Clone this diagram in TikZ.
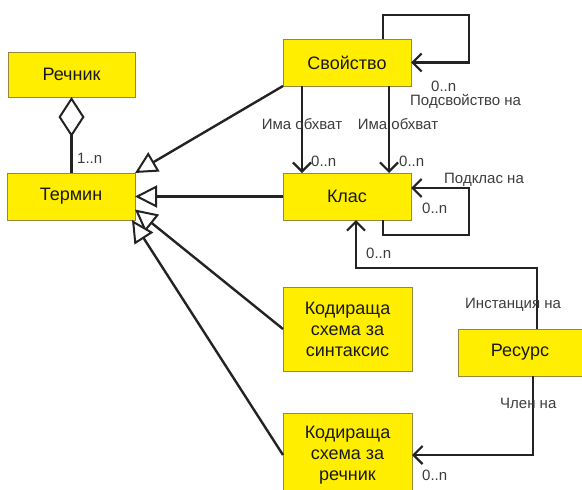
\documentclass[tikz,border=0pt]{standalone}
\usepackage{fontspec}
\setmainfont{Liberation Sans}
\usetikzlibrary{arrows.meta,calc}
\definecolor{boxfill}{RGB}{255,238,0}
\definecolor{boxline}{RGB}{150,135,60}
\definecolor{conn}{RGB}{35,35,35}
\definecolor{lbl}{RGB}{60,60,60}
\tikzset{
  box/.style={draw=boxline, line width=0.8pt, fill=boxfill, inner sep=0pt, outer sep=0pt,
    font=\fontsize{18}{21}\selectfont, align=center, text=black!90},
  lab/.style={font=\fontsize{15}{17}\selectfont, text=lbl, inner sep=0pt},
  conn/.style={draw=conn, line width=2.4pt},
  gen/.style={conn, -{Triangle[open, length=22pt, width=22pt, fill=white, line width=2pt]}},
  nav/.style={conn, -{Straight Barb[length=9pt, width=18pt, line width=2.2pt]}},
}
\begin{document}
\begin{tikzpicture}[x=1pt,y=-1pt]
\useasboundingbox (0,0) rectangle (582,490);
\begin{scope}
\clip (0,0) rectangle (582,490);
% boxes
\node[box, minimum width=127pt, minimum height=45pt] (rech) at (71.5,74.5) {Речник};
\node[box, minimum width=128pt, minimum height=47pt] (term) at (71,196.5) {Термин};
\node[box, minimum width=128pt, minimum height=47pt] (svoj) at (347,62.5) {Свойство};
\node[box, minimum width=128pt, minimum height=47pt] (klas) at (347,196.5) {Клас};
\node[box, minimum width=129pt, minimum height=84pt] (sint) at (347.5,329) {Кодираща\\схема за\\синтаксис};
\node[box, minimum width=124pt, minimum height=47pt] (res) at (520,352.5) {Ресурс};
\node[box, minimum width=129pt, minimum height=84pt, anchor=north] (rchs) at (347.5,413) {Кодираща\\схема за\\речник};

% aggregation
\draw[conn, {Diamond[open, length=40pt, width=26pt, fill=white, line width=2pt]}-] (rech.south) -- (rech.south |- term.north);
\node[lab, anchor=west] (l1n) at (77,158) {1..n};

% generalizations
\draw[gen] (svoj.south west) -- (term.north east);
\draw[gen] (klas.west) -- (term.east);
\draw[gen] (sint.west) -- ($(term.east)+(0,13)$);
\draw[gen] (rchs.west) -- ($(term.south east)+(-3,0)$);

% has scope
\draw[nav] ($(svoj.south west)+(19,0)$) -- ($(klas.north west)+(19,0)$);
\draw[nav] ($(svoj.south east)+(-22,0)$) -- ($(klas.north east)+(-22,0)$);
\node[lab] (hs1) at (302,124) {Има обхват};
\node[lab] (hs2) at (398,124) {Има обхват};
\node[lab, anchor=west] (m1) at (311,161) {0..n};
\node[lab, anchor=west] (m2) at (399,161) {0..n};

% self loops
\coordinate (s1) at ($(svoj.north east)+(-28,0)$);
\draw[nav] (s1) -- (383,15) -- (469,15) -- (469,62.5) -- (svoj.east);
\node[lab, anchor=west] (m3) at (431,86) {0..n};
\node[lab, anchor=west] (sub1) at (410,101) {Подсвойство на};

\coordinate (k1) at ($(klas.south east)+(-28,0)$);
\coordinate (k2) at ($(klas.east)+(0,-8.5)$);
\draw[nav] (k1) -- (383,235) -- (469,235) -- (469,188) -- (k2);
\node[lab, anchor=west] (sub2) at (444,180) {Подклас на};
\node[lab, anchor=west] (m4) at (422,208) {0..n};

% instance of
\coordinate (r1) at ($(res.north)+(17,0)$);
\coordinate (k3) at ($(klas.south)+(9,0)$);
\draw[nav] (r1) -- (537,268) -- (356,268) -- (k3);
\node[lab, anchor=west] (m5) at (366,253) {0..n};
\node[lab, anchor=west] (inst) at (465,305) {Инстанция на};

% member of
\coordinate (r2) at ($(res.south)+(13,0)$);
\draw[nav] (r2) |- (rchs.east);
\node[lab, anchor=west] (mem) at (500,403) {Член на};
\node[lab, anchor=west] (m6) at (422,475) {0..n};
\end{scope}
\end{tikzpicture}
\end{document}
